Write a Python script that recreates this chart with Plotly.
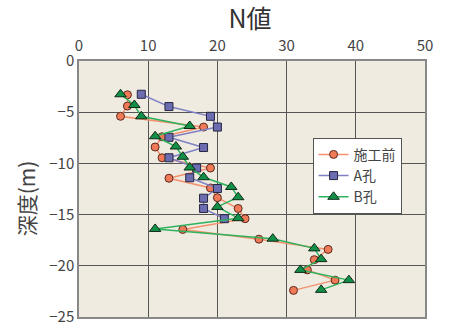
import plotly.graph_objects as go

# Depth (m) for each SPT reading
depth_pre = [-3.3, -4.4, -5.4, -6.45, -7.4, -8.4, -9.45, -10.45, -11.45, -12.4,
             -13.35, -14.4, -15.4, -16.45, -17.4, -18.4, -19.4, -20.4, -21.4, -22.4]
n_pre = [7, 7, 6, 18, 12, 11, 12, 19, 13, 19, 20, 23, 24, 15, 26, 36, 34, 33, 37, 31]

depth_a = [-3.25, -4.45, -5.4, -6.45, -7.45, -8.45, -9.45, -10.45, -11.4, -12.45,
           -13.4, -14.4, -15.4]
n_a = [9, 13, 19, 20, 13, 18, 13, 17, 16, 20, 18, 18, 21]

depth_b = [-3.25, -4.3, -5.4, -6.35, -7.35, -8.35, -9.35, -10.4, -11.35, -12.3,
           -13.3, -14.25, -15.35, -16.4, -17.35, -18.3, -19.35, -20.4, -21.4, -22.35]
n_b = [6, 8, 9, 16, 11, 14, 15, 16, 18, 22, 23, 20, 23, 11, 28, 34, 35, 32, 39, 35]

series_names = ["施工前", "A孔", "B孔"]

FONT = "Noto Sans CJK JP"

fig = go.Figure()

fig.add_trace(go.Scatter(
    x=n_pre, y=depth_pre, name=series_names[0], mode="lines+markers",
    line=dict(color="#F4906E", width=1.5),
    marker=dict(symbol="circle", size=8, color="#F07A58",
                line=dict(color="#5A2A1E", width=1)),
))
fig.add_trace(go.Scatter(
    x=n_a, y=depth_a, name=series_names[1], mode="lines+markers",
    line=dict(color="#8080C4", width=1.5),
    marker=dict(symbol="square", size=8, color="#6C6CB0",
                line=dict(color="#262640", width=1)),
))
fig.add_trace(go.Scatter(
    x=n_b, y=depth_b, name=series_names[2], mode="lines+markers",
    line=dict(color="#2EB25C", width=1.5),
    marker=dict(symbol="triangle-up", size=10, color="#129048",
                line=dict(color="#0E2A18", width=1)),
))

fig.update_layout(
    width=453, height=336,
    margin=dict(l=79, r=28, t=61, b=10),
    paper_bgcolor="white",
    plot_bgcolor="#EFEBE1",
    font=dict(family=FONT, color="#444444", size=15),
    title=dict(text="N値", xref="paper", x=0.494, xanchor="center",
               yref="container", y=0.968, yanchor="top",
               font=dict(family=FONT, size=25, color="#333333")),
    legend=dict(x=0.675, y=0.70, xanchor="left", yanchor="top",
                bgcolor="white", bordercolor="#555555", borderwidth=1,
                font=dict(family=FONT, size=14, color="#444444"),
                itemwidth=30, tracegroupgap=0),
    showlegend=True,
    annotations=[dict(
        text="深度(m)", textangle=-90, showarrow=False,
        xref="paper", yref="paper", x=-0.153, y=0.464,
        xanchor="center", yanchor="middle",
        font=dict(family=FONT, size=21, color="#444444"),
    )],
)

fig.update_xaxes(
    side="top", range=[0, 50], dtick=10, tick0=0,
    showgrid=True, gridcolor="#555555", gridwidth=1,
    zeroline=False, showline=True, linecolor="#888888", linewidth=1.5,
    mirror=True, ticks="", ticklabelstandoff=2,
    tickfont=dict(family=FONT, size=15, color="#444444"),
)
fig.update_yaxes(
    range=[-25, 0], dtick=5, tick0=0,
    showgrid=True, gridcolor="#555555", gridwidth=1,
    zeroline=False, showline=True, linecolor="#888888", linewidth=1.5,
    mirror=True, ticks="",
    tickfont=dict(family=FONT, size=15, color="#444444"),
)

fig.write_html("out.html")
